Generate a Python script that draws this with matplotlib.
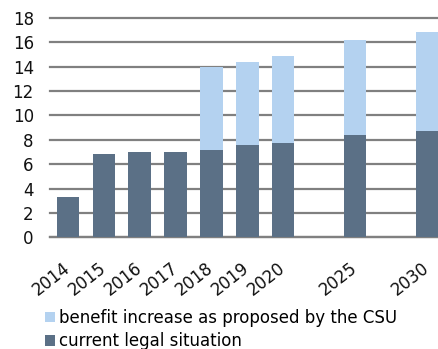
import numpy as np
import matplotlib
matplotlib.use("Agg")
import matplotlib.pyplot as plt

years = ["2014", "2015", "2016", "2017", "2018", "2019", "2020", "", "2025", "", "2030"]
current = [3.33, 6.85, 7.02, 7.02, 7.16, 7.54, 7.73, 0, 8.41, 0, 8.74]
increase = [0, 0, 0, 0, 6.84, 6.83, 7.16, 0, 7.74, 0, 8.09]

dark = "#5b7086"
light = "#b4d2f0"
grid = "#808080"

plt.rcParams["font.family"] = ["DejaVu Sans"]

fig = plt.figure(figsize=(4.39, 3.49), dpi=100)
ax = fig.add_axes([0.1135, 0.32, 0.9, 0.629])

x = np.arange(len(years))
ax.bar(x, current, width=0.62, color=dark, zorder=3, label="current legal situation")
ax.bar(x, increase, width=0.62, bottom=current, color=light, zorder=3,
       label="benefit increase as proposed by the CSU")

ax.set_ylim(0, 18)
ax.set_xlim(-0.5, 10.5)
ax.set_yticks(range(0, 19, 2))
ax.yaxis.grid(True, color=grid, linewidth=1.6, zorder=0)
for gl in ax.get_ygridlines():
    gl.set_clip_on(False)
ax.set_axisbelow(True)
for s in ["top", "right", "left"]:
    ax.spines[s].set_visible(False)
ax.spines["bottom"].set_color(grid)
ax.spines["bottom"].set_linewidth(1.6)
ax.tick_params(axis="both", length=0, labelsize=12, colors="#111111")
ax.tick_params(axis="y", pad=11.5)

ticks = [i for i, y in enumerate(years) if y]
ax.set_xticks(ticks)
ax.set_xticklabels([years[i] for i in ticks], rotation=38, ha="right",
                   va="center", rotation_mode="anchor")
ax.tick_params(axis="x", pad=21)

h, l = ax.get_legend_handles_labels()
fig.legend(h[::-1], l[::-1], loc="upper left", bbox_to_anchor=(0.1025, 0.115),
           frameon=False, fontsize=12, handlelength=0.62, handleheight=0.62,
           handletextpad=0.2, labelspacing=0.33, borderaxespad=0, borderpad=0)

fig.savefig("out.png", dpi=100)
